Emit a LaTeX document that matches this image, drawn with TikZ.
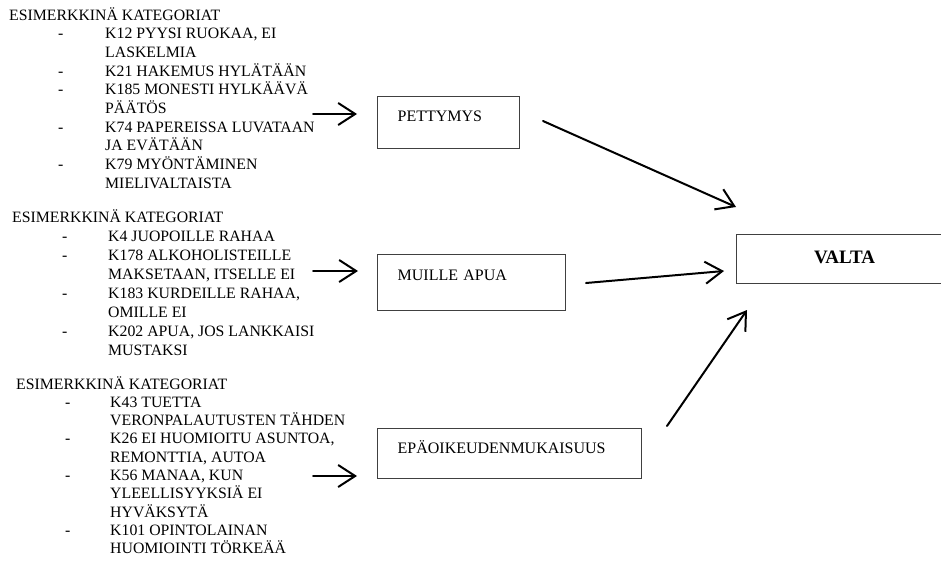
\documentclass[tikz,border=0pt]{standalone}
\usepackage{fontspec}
\setmainfont{Liberation Serif}
\usetikzlibrary{arrows.meta}
\definecolor{boxgray}{HTML}{404040}
\begin{document}
\begin{tikzpicture}[x=1pt,y=-1pt,
  txt/.style={font=\fontsize{15.8}{18.9}\selectfont, inner sep=0pt, anchor=base west},
  box/.style={draw=boxgray, line width=1.3pt, inner ysep=0pt, font=\fontsize{16}{19}\selectfont},
  arr/.style={-{Straight Barb[length=17pt,width=22pt]}, line width=2pt, line cap=round}]
\useasboundingbox (0,0) rectangle (941,565);
% block 1
\node[txt] (h1) at (9,20) {ESIMERKKINÄ KATEGORIAT};
\node[txt] (d11) at (58,38.7) {-};
\node[txt] (t11) at (105,38.7) {K12 PYYSI RUOKAA, EI};
\node[txt] (t12) at (105,57.4) {LASKELMIA};
\node[txt] (d12) at (58,76.1) {-};
\node[txt] (t13) at (105,76.1) {K21 HAKEMUS HYLÄTÄÄN};
\node[txt] (d13) at (58,94.8) {-};
\node[txt] (t14) at (105,94.8) {K185 MONESTI HYLKÄÄVÄ};
\node[txt] (t15) at (105,113.5) {PÄÄTÖS};
\node[txt] (d14) at (58,132.2) {-};
\node[txt] (t16) at (105,132.2) {K74 PAPEREISSA LUVATAAN};
\node[txt] (t17) at (105,150.9) {JA EVÄTÄÄN};
\node[txt] (d15) at (58,169.6) {-};
\node[txt] (t18) at (105,169.6) {K79 MYÖNTÄMINEN};
\node[txt] (t19) at (105,188.3) {MIELIVALTAISTA};
% block 2
\node[txt] (h2) at (12,222) {ESIMERKKINÄ KATEGORIAT};
\node[txt] (d21) at (62,241) {-};
\node[txt] (t21) at (108,241) {K4 JUOPOILLE RAHAA};
\node[txt] (d22) at (62,260) {-};
\node[txt] (t22) at (108,260) {K178 ALKOHOLISTEILLE};
\node[txt] (t23) at (108,279) {MAKSETAAN, ITSELLE EI};
\node[txt] (d23) at (62,298) {-};
\node[txt] (t24) at (108,298) {K183 KURDEILLE RAHAA,};
\node[txt] (t25) at (108,317) {OMILLE EI};
\node[txt] (d24) at (62,336) {-};
\node[txt] (t26) at (108,336) {K202 APUA, JOS LANKKAISI};
\node[txt] (t27) at (108,355) {MUSTAKSI};
% block 3
\node[txt] (h3) at (16,389) {ESIMERKKINÄ KATEGORIAT};
\node[txt] (d31) at (65,407.3) {-};
\node[txt] (t31) at (110,407.3) {K43 TUETTA};
\node[txt] (t32) at (110,425.6) {VERONPALAUTUSTEN TÄHDEN};
\node[txt] (d32) at (65,443.9) {-};
\node[txt] (t33) at (110,443.9) {K26 EI HUOMIOITU ASUNTOA,};
\node[txt] (t34) at (110,462.2) {REMONTTIA, AUTOA};
\node[txt] (d33) at (65,480.5) {-};
\node[txt] (t35) at (110,480.5) {K56 MANAA, KUN};
\node[txt] (t36) at (110,498.8) {YLEELLISYYKSIÄ EI};
\node[txt] (t37) at (110,517.1) {HYVÄKSYTÄ};
\node[txt] (d34) at (65,535.4) {-};
\node[txt] (t38) at (110,535.4) {K101 OPINTOLAINAN};
\node[txt] (t39) at (110,553.7) {HUOMIOINTI TÖRKEÄÄ};
% boxes
\node[box, anchor=north west, minimum width=142pt, text width=102pt, inner xsep=20pt, text height=25pt, text depth=27pt, align=left] (pet) at (377,96) {PETTYMYS};
\node[box, anchor=north west, minimum width=188pt, text width=148pt, inner xsep=20pt, text height=26pt, text depth=30pt, align=left] (muu) at (377,254) {MUILLE APUA};
\node[box, anchor=north west, minimum width=264pt, text width=224pt, inner xsep=20pt, text height=25pt, text depth=25pt, align=left] (epa) at (377,428) {EPÄOIKEUDENMUKAISUUS};
\node[box, anchor=north west, minimum width=216pt, text width=176pt, inner xsep=20pt, text height=29pt, text depth=20pt, align=center, font=\fontsize{19}{22}\selectfont\bfseries] (val) at (736,234) {VALTA};
% connector ends
\coordinate (a1s) at (313,114); \coordinate (a1e) at (357,114);
\coordinate (a2s) at (313,271); \coordinate (a2e) at (358,271);
\coordinate (a3s) at (313,476); \coordinate (a3e) at (357,476);
\coordinate (pout) at (543,121); \coordinate (vin1) at (736,207);
\coordinate (mout) at (586,283); \coordinate (vin2) at (724,271);
\coordinate (eout) at (667,426); \coordinate (vin3) at (747,310);
\draw[arr] (a1s) -- (a1e);
\draw[arr] (a2s) -- (a2e);
\draw[arr] (a3s) -- (a3e);
\draw[arr] (pout) -- (vin1);
\draw[arr] (mout) -- (vin2);
\draw[arr] (eout) -- (vin3);
\end{tikzpicture}
\end{document}
